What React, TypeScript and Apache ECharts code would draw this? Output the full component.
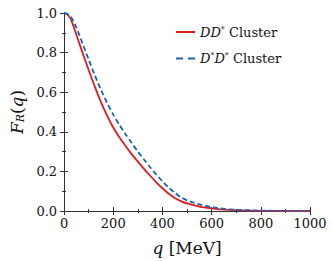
import React, { useEffect, useRef } from "react";
import * as echarts from "echarts";

const qValues = [0, 12.5, 25, 37.5, 50, 62.5, 75, 100, 125, 150, 175, 200, 225, 250, 275, 300, 325, 350, 375, 400, 425, 450, 475, 500, 550, 600, 650, 700, 800, 900, 1000];
const ddStar = [1.0, 0.993, 0.974, 0.936, 0.89, 0.845, 0.8, 0.712, 0.628, 0.55, 0.482, 0.422, 0.372, 0.328, 0.287, 0.249, 0.213, 0.178, 0.145, 0.115, 0.088, 0.066, 0.05, 0.038, 0.022, 0.013, 0.007, 0.004, 0.001, 0.0, 0.0];
const dStarDStar = [1.0, 0.996, 0.985, 0.96, 0.927, 0.887, 0.846, 0.765, 0.686, 0.612, 0.546, 0.487, 0.435, 0.388, 0.343, 0.3, 0.26, 0.221, 0.184, 0.15, 0.119, 0.092, 0.07, 0.054, 0.033, 0.019, 0.011, 0.006, 0.002, 0.0005, 0.0];
const xTicks = [0, 200, 400, 600, 800, 1000];
const yTicks = [0.0, 0.2, 0.4, 0.6, 0.8, 1.0];

const FONT = "DejaVu Serif";

export default function App() {
  const ref = useRef<HTMLDivElement>(null);
  useEffect(() => {
    if (!ref.current) return;
    const chart = echarts.init(ref.current, null, { renderer: "svg" });
    const axisCommon = {
      axisLine: { show: true, lineStyle: { color: "#333", width: 1 } },
      axisTick: { show: true, inside: true, length: 4, lineStyle: { color: "#333" } },
      minorTick: { show: true, splitNumber: 2, length: 2, lineStyle: { color: "#333" } },
      splitLine: { show: false },
    };
    const xMin = xTicks[0], xMax = xTicks[xTicks.length - 1];
    const yMin = yTicks[0], yMax = yTicks[yTicks.length - 1];
    chart.setOption({
      animation: false,
      backgroundColor: "#fff",
      textStyle: { fontFamily: FONT },
      grid: { left: 61, right: 22, top: 13, bottom: 50 },
      legend: {
        top: 25,
        left: 176,
        padding: 0,
        orient: "vertical",
        itemWidth: 19,
        itemHeight: 10,
        itemGap: 13,
        textStyle: {
          fontFamily: FONT,
          fontSize: 13,
          color: "#111",
          rich: {
            i: { fontFamily: FONT, fontStyle: "italic", fontSize: 13, color: "#111" },
            s: { fontFamily: FONT, fontSize: 8, verticalAlign: "top", color: "#111", padding: [0, 0, 6, 0] },
          },
        },
        formatter: (name: string) =>
          name === "DD* Cluster" ? "{i|DD}{s|*} Cluster" : "{i|D}{s|*}{i|D}{s|*} Cluster",
        data: [
          { name: "DD* Cluster", icon: "path://M0,0 L19,0 L19,2 L0,2 Z", itemStyle: { color: "#e41a1c" } },
          { name: "D*D* Cluster", icon: "path://M0,0 L7,0 L7,2 L0,2 Z M12,0 L19,0 L19,2 L12,2 Z", itemStyle: { color: "#1565b5" } },
        ],
      },
      xAxis: [
        {
          type: "value",
          min: xMin,
          max: xMax,
          interval: 200,
          ...axisCommon,
          axisLabel: { color: "#111", fontFamily: FONT, fontSize: 13, margin: 6, formatter: (v: number) => String(v) },
          name: "{i|q} [MeV]",
          nameLocation: "middle",
          nameGap: 28,
          nameTextStyle: {
            fontFamily: FONT,
            fontSize: 17,
            color: "#111",
            rich: {
              i: { fontFamily: FONT, fontStyle: "italic", fontSize: 17, color: "#111" },
            },
          },
        },
        {
          type: "value",
          position: "top",
          min: xMin,
          max: xMax,
          interval: 200,
          ...axisCommon,
          axisLabel: { show: false },
        },
      ],
      yAxis: [
        {
          type: "value",
          min: yMin,
          max: yMax,
          interval: 0.2,
          ...axisCommon,
          axisLabel: { color: "#111", fontFamily: FONT, fontSize: 13, margin: 7, formatter: (v: number) => v.toFixed(1) },
          name: "{i|F}{sub|R}({i|q})",
          nameLocation: "middle",
          nameRotate: 90,
          nameGap: 32,
          nameTextStyle: {
            fontFamily: FONT,
            fontSize: 17,
            color: "#111",
            rich: {
              i: { fontFamily: FONT, fontStyle: "italic", fontSize: 17, color: "#111" },
              sub: { fontFamily: FONT, fontStyle: "italic", fontSize: 11, color: "#111", verticalAlign: "bottom", padding: [7, 0, 0, 0] },
            },
          },
        },
        {
          type: "value",
          position: "right",
          min: yMin,
          max: yMax,
          interval: 0.2,
          ...axisCommon,
          axisLabel: { show: false },
        },
      ],
      series: [
        {
          name: "DD* Cluster",
          type: "line",
          showSymbol: false,
          symbol: "none",
          smooth: 0.25,
          data: qValues.map((q, i) => [q, ddStar[i]]),
          lineStyle: { color: "#e41a1c", width: 1.8 },
          itemStyle: { color: "#e41a1c" },
          z: 3,
        },
        {
          name: "D*D* Cluster",
          type: "line",
          showSymbol: false,
          symbol: "none",
          smooth: 0.25,
          data: qValues.map((q, i) => [q, dStarDStar[i]]),
          lineStyle: { color: "#1565b5", width: 1.8, type: [5, 3] },
          itemStyle: { color: "#1565b5" },
          z: 4,
        },
      ],
    });
    return () => chart.dispose();
  }, []);
  return <div ref={ref} style={{ position: "fixed", left: 0, top: 0, width: 332, height: 261 }} />;
}
